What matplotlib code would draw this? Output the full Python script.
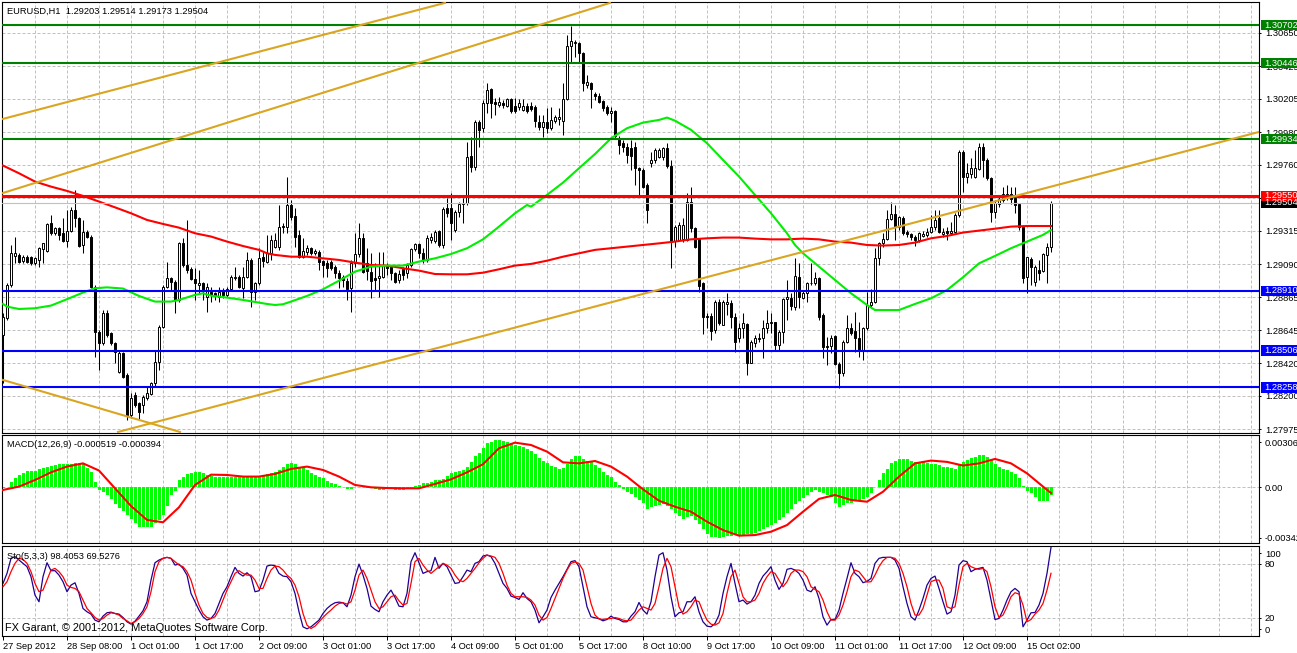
import numpy as np
import matplotlib
matplotlib.use("Agg")
import matplotlib.pyplot as plt
import matplotlib.transforms as mtransforms
from matplotlib.patches import Rectangle

plt.rcParams['font.family'] = ['Liberation Sans', 'DejaVu Sans']

# ---- EURUSD H1 candles ----
opens = [
    1.28612, 1.28724, 1.28949, 1.29145, 1.29152, 1.29113, 1.29140, 1.29136, 1.29095, 1.29118,
    1.29190, 1.29181, 1.29365, 1.29298, 1.29332, 1.29298, 1.29248, 1.29316, 1.29455, 1.29399,
    1.29219, 1.29309, 1.29276, 1.28938, 1.28634, 1.28555, 1.28758, 1.28623, 1.28555, 1.28364,
    1.28488, 1.28342, 1.28072, 1.28207, 1.28150, 1.28139, 1.28184, 1.28214, 1.28285, 1.28432,
    1.28668, 1.28938, 1.28994, 1.28972, 1.28848, 1.29235, 1.29084, 1.29055, 1.28992, 1.28947,
    1.28965, 1.28871, 1.28904, 1.28893, 1.28871, 1.28915, 1.28880, 1.28920, 1.28994, 1.29005,
    1.28927, 1.29005, 1.29118, 1.28904, 1.28960, 1.29140, 1.29107, 1.29163, 1.29208, 1.29208,
    1.29347, 1.29343, 1.29489, 1.29415, 1.29287, 1.29140, 1.29170, 1.29197, 1.29163, 1.29170,
    1.29111, 1.29100, 1.29107, 1.29073, 1.29032, 1.29005, 1.28978, 1.28927, 1.29095, 1.29158,
    1.29264, 1.29095, 1.29039, 1.28994, 1.28994, 1.29005, 1.29084, 1.29073, 1.29032, 1.28983,
    1.29055, 1.29028, 1.29084, 1.29190, 1.29224, 1.29163, 1.29118, 1.29253, 1.29248, 1.29314,
    1.29219, 1.29467, 1.29467, 1.29320, 1.29440, 1.29496, 1.29501, 1.29820, 1.29743, 1.30052,
    1.30007, 1.30176, 1.30270, 1.30182, 1.30164, 1.30180, 1.30158, 1.30203, 1.30158, 1.30149,
    1.30131, 1.30158, 1.30158, 1.30149, 1.30052, 1.30018, 1.30052, 1.30007, 1.30058, 1.30068,
    1.30058, 1.30203, 1.30562, 1.30581, 1.30581, 1.30518, 1.30299, 1.30315, 1.30238, 1.30225,
    1.30191, 1.30153, 1.30113, 1.30120, 1.29939, 1.29906, 1.29883, 1.29872, 1.29883, 1.29737,
    1.29725, 1.29624, 1.29770, 1.29793, 1.29815, 1.29815, 1.29872, 1.29752, 1.29248, 1.29253,
    1.29257, 1.29253, 1.29512, 1.29332, 1.29257, 1.28960, 1.28740, 1.28740, 1.28645, 1.28837,
    1.28679, 1.28821, 1.28830, 1.28735, 1.28589, 1.28657, 1.28686, 1.28425, 1.28555, 1.28583,
    1.28589, 1.28657, 1.28690, 1.28697, 1.28544, 1.28634, 1.28853, 1.28864, 1.28803, 1.29005,
    1.28864, 1.28893, 1.28960, 1.28960, 1.28994, 1.28747, 1.28537, 1.28537, 1.28605, 1.28416,
    1.28357, 1.28567, 1.28657, 1.28641, 1.28589, 1.28510, 1.28657, 1.28814, 1.28837, 1.29129,
    1.29230, 1.29257, 1.29393, 1.29426, 1.29343, 1.29399, 1.29309, 1.29293, 1.29271, 1.29253,
    1.29280, 1.29287, 1.29309, 1.29338, 1.29399, 1.29293, 1.29314, 1.29298, 1.29309, 1.29422,
    1.29849, 1.29681, 1.29698, 1.29681, 1.29730, 1.29883, 1.29793, 1.29670, 1.29444, 1.29496,
    1.29523, 1.29546, 1.29564, 1.29534, 1.29496, 1.29343, 1.29000, 1.29123, 1.28972, 1.29050,
    1.29046, 1.29152, 1.29203]
highs = [
    1.28758, 1.28960, 1.29219, 1.29276, 1.29163, 1.29152, 1.29152, 1.29145, 1.29140, 1.29208,
    1.29235, 1.29365, 1.29422, 1.29343, 1.29343, 1.29399, 1.29455, 1.29478, 1.29590, 1.29410,
    1.29388, 1.29320, 1.29287, 1.28949, 1.28645, 1.28780, 1.28780, 1.28634, 1.28567, 1.28510,
    1.28499, 1.28353, 1.28218, 1.28229, 1.28162, 1.28207, 1.28263, 1.28297, 1.28510, 1.28679,
    1.28949, 1.29107, 1.29005, 1.28983, 1.29242, 1.29264, 1.29388, 1.29073, 1.29062, 1.29050,
    1.28972, 1.28960, 1.28938, 1.28904, 1.28938, 1.28927, 1.28938, 1.29017, 1.29073, 1.29017,
    1.29073, 1.29170, 1.29129, 1.28972, 1.29197, 1.29170, 1.29287, 1.29287, 1.29298, 1.29489,
    1.29365, 1.29681, 1.29523, 1.29467, 1.29320, 1.29264, 1.29219, 1.29208, 1.29190, 1.29186,
    1.29118, 1.29118, 1.29118, 1.29084, 1.29050, 1.29017, 1.28994, 1.29118, 1.29298, 1.29365,
    1.29298, 1.29197, 1.29163, 1.29095, 1.29170, 1.29170, 1.29095, 1.29084, 1.29039, 1.29050,
    1.29073, 1.29095, 1.29197, 1.29235, 1.29235, 1.29197, 1.29287, 1.29298, 1.29320, 1.29320,
    1.29478, 1.29534, 1.29573, 1.29455, 1.29512, 1.29534, 1.29917, 1.29950, 1.30063, 1.30063,
    1.30198, 1.30310, 1.30277, 1.30209, 1.30220, 1.30198, 1.30214, 1.30209, 1.30209, 1.30203,
    1.30203, 1.30176, 1.30187, 1.30164, 1.30097, 1.30097, 1.30142, 1.30149, 1.30097, 1.30142,
    1.30310, 1.30637, 1.30697, 1.30603, 1.30592, 1.30524, 1.30367, 1.30322, 1.30254, 1.30243,
    1.30198, 1.30164, 1.30153, 1.30131, 1.29955, 1.29928, 1.29906, 1.29928, 1.29917, 1.29748,
    1.29737, 1.29636, 1.29849, 1.29872, 1.29872, 1.29883, 1.29906, 1.29793, 1.29354, 1.29377,
    1.29399, 1.29568, 1.29613, 1.29343, 1.29264, 1.28972, 1.28758, 1.28758, 1.28848, 1.28853,
    1.28848, 1.28893, 1.28848, 1.28758, 1.28690, 1.28758, 1.28695, 1.28578, 1.28612, 1.28623,
    1.28713, 1.28780, 1.28758, 1.28702, 1.28645, 1.28859, 1.28983, 1.28893, 1.29129, 1.29095,
    1.28915, 1.28972, 1.29095, 1.29039, 1.29005, 1.28758, 1.28600, 1.28612, 1.28612, 1.28432,
    1.28578, 1.28747, 1.28690, 1.28769, 1.28702, 1.28668, 1.28904, 1.28920, 1.29197, 1.29242,
    1.29298, 1.29455, 1.29512, 1.29489, 1.29415, 1.29415, 1.29320, 1.29302, 1.29287, 1.29309,
    1.29316, 1.29332, 1.29422, 1.29455, 1.29455, 1.29332, 1.29343, 1.29377, 1.29433, 1.29860,
    1.29860, 1.29770, 1.29804, 1.29860, 1.29906, 1.29906, 1.29804, 1.29681, 1.29523, 1.29546,
    1.29613, 1.29624, 1.29613, 1.29613, 1.29505, 1.29354, 1.29140, 1.29140, 1.29084, 1.29118,
    1.29163, 1.29230, 1.29514]
lows = [
    1.28285, 1.28713, 1.28938, 1.29095, 1.29095, 1.29100, 1.29095, 1.29084, 1.29084, 1.29073,
    1.29095, 1.29170, 1.29287, 1.29287, 1.29253, 1.29242, 1.29208, 1.29309, 1.29343, 1.29208,
    1.29163, 1.29264, 1.28927, 1.28465, 1.28375, 1.28544, 1.28600, 1.28544, 1.28420, 1.28353,
    1.28319, 1.28038, 1.28049, 1.28128, 1.28043, 1.28083, 1.28173, 1.28207, 1.28263, 1.28375,
    1.28657, 1.28927, 1.28915, 1.28758, 1.28837, 1.29073, 1.29028, 1.28983, 1.28848, 1.28893,
    1.28848, 1.28769, 1.28837, 1.28848, 1.28837, 1.28859, 1.28871, 1.28915, 1.28983, 1.28927,
    1.28859, 1.28994, 1.28803, 1.28848, 1.28949, 1.29073, 1.29095, 1.29118, 1.29197, 1.29186,
    1.29298, 1.29298, 1.29388, 1.29208, 1.29129, 1.29129, 1.29152, 1.29152, 1.29152, 1.29050,
    1.29005, 1.29005, 1.29050, 1.28994, 1.28927, 1.28938, 1.28848, 1.28769, 1.29073, 1.29140,
    1.29028, 1.28983, 1.28864, 1.28915, 1.28871, 1.28994, 1.29017, 1.28983, 1.28960, 1.28960,
    1.28983, 1.28994, 1.29073, 1.29181, 1.29129, 1.29095, 1.29107, 1.29230, 1.29230, 1.29208,
    1.29197, 1.29410, 1.29253, 1.29309, 1.29410, 1.29365, 1.29489, 1.29714, 1.29725, 1.29883,
    1.29984, 1.30108, 1.30074, 1.30097, 1.30153, 1.30142, 1.30149, 1.30113, 1.30108, 1.30131,
    1.30120, 1.30108, 1.30120, 1.30018, 1.29996, 1.29950, 1.29973, 1.29996, 1.30041, 1.30030,
    1.29962, 1.30198, 1.30457, 1.30491, 1.30457, 1.30261, 1.30277, 1.30142, 1.30198, 1.30176,
    1.30120, 1.30097, 1.30052, 1.29939, 1.29833, 1.29849, 1.29770, 1.29725, 1.29624, 1.29557,
    1.29602, 1.29365, 1.29748, 1.29770, 1.29804, 1.29793, 1.29737, 1.29062, 1.29208, 1.29253,
    1.29242, 1.29248, 1.29309, 1.29197, 1.28904, 1.28616, 1.28657, 1.28578, 1.28623, 1.28679,
    1.28679, 1.28747, 1.28657, 1.28499, 1.28567, 1.28589, 1.28342, 1.28420, 1.28533, 1.28567,
    1.28454, 1.28623, 1.28623, 1.28510, 1.28510, 1.28555, 1.28713, 1.28780, 1.28780, 1.28792,
    1.28853, 1.28837, 1.28949, 1.28949, 1.28713, 1.28454, 1.28409, 1.28488, 1.28409, 1.28252,
    1.28335, 1.28555, 1.28612, 1.28499, 1.28465, 1.28443, 1.28645, 1.28792, 1.28825, 1.29084,
    1.29208, 1.29253, 1.29388, 1.29253, 1.29320, 1.29287, 1.29276, 1.29253, 1.29212, 1.29242,
    1.29276, 1.29271, 1.29298, 1.29320, 1.29298, 1.29271, 1.29253, 1.29287, 1.29298, 1.29410,
    1.29579, 1.29636, 1.29670, 1.29670, 1.29725, 1.29681, 1.29658, 1.29377, 1.29399, 1.29478,
    1.29512, 1.29523, 1.29496, 1.29433, 1.29320, 1.28965, 1.28898, 1.28949, 1.28943, 1.28983,
    1.29039, 1.28960, 1.29173]
closes = [
    1.28735, 1.28949, 1.29163, 1.29163, 1.29107, 1.29140, 1.29107, 1.29095, 1.29129, 1.29197,
    1.29230, 1.29361, 1.29298, 1.29332, 1.29287, 1.29248, 1.29316, 1.29455, 1.29399, 1.29212,
    1.29309, 1.29276, 1.28938, 1.28634, 1.28555, 1.28758, 1.28612, 1.28555, 1.28499, 1.28488,
    1.28330, 1.28072, 1.28184, 1.28139, 1.28094, 1.28195, 1.28218, 1.28285, 1.28432, 1.28668,
    1.28938, 1.28994, 1.28972, 1.28848, 1.29235, 1.29084, 1.29050, 1.28992, 1.28960, 1.28965,
    1.28915, 1.28938, 1.28882, 1.28875, 1.28902, 1.28882, 1.28925, 1.29005, 1.29005, 1.28933,
    1.29005, 1.29118, 1.28904, 1.28960, 1.29129, 1.29113, 1.29163, 1.29253, 1.29253, 1.29343,
    1.29338, 1.29489, 1.29410, 1.29276, 1.29140, 1.29181, 1.29197, 1.29163, 1.29181, 1.29107,
    1.29084, 1.29062, 1.29062, 1.29032, 1.28994, 1.28983, 1.28920, 1.29095, 1.29158, 1.29264,
    1.29039, 1.29046, 1.28978, 1.28983, 1.29010, 1.29084, 1.29062, 1.29028, 1.28972, 1.29023,
    1.29017, 1.29084, 1.29190, 1.29224, 1.29163, 1.29118, 1.29264, 1.29276, 1.29309, 1.29219,
    1.29460, 1.29433, 1.29370, 1.29440, 1.29496, 1.29505, 1.29815, 1.29743, 1.30052, 1.29996,
    1.30176, 1.30266, 1.30180, 1.30169, 1.30187, 1.30162, 1.30207, 1.30120, 1.30124, 1.30180,
    1.30158, 1.30120, 1.30135, 1.30058, 1.30018, 1.30052, 1.30007, 1.30063, 1.30081, 1.30086,
    1.30203, 1.30562, 1.30596, 1.30592, 1.30518, 1.30310, 1.30322, 1.30270, 1.30225, 1.30187,
    1.30142, 1.30113, 1.30120, 1.29955, 1.29894, 1.29883, 1.29827, 1.29820, 1.29737, 1.29725,
    1.29613, 1.29455, 1.29793, 1.29860, 1.29860, 1.29872, 1.29752, 1.29242, 1.29343, 1.29354,
    1.29354, 1.29512, 1.29332, 1.29208, 1.28943, 1.28735, 1.28735, 1.28639, 1.28837, 1.28690,
    1.28837, 1.28837, 1.28735, 1.28567, 1.28657, 1.28690, 1.28425, 1.28567, 1.28589, 1.28594,
    1.28657, 1.28690, 1.28702, 1.28544, 1.28634, 1.28853, 1.28871, 1.28808, 1.29010, 1.28871,
    1.28898, 1.28960, 1.28965, 1.28994, 1.28735, 1.28533, 1.28533, 1.28589, 1.28416, 1.28357,
    1.28567, 1.28657, 1.28628, 1.28589, 1.28510, 1.28657, 1.28814, 1.28837, 1.29129, 1.29230,
    1.29257, 1.29393, 1.29426, 1.29343, 1.29406, 1.29298, 1.29293, 1.29276, 1.29253, 1.29298,
    1.29293, 1.29309, 1.29338, 1.29388, 1.29309, 1.29309, 1.29298, 1.29314, 1.29422, 1.29849,
    1.29681, 1.29703, 1.29737, 1.29737, 1.29883, 1.29793, 1.29670, 1.29444, 1.29501, 1.29528,
    1.29564, 1.29564, 1.29528, 1.29489, 1.29343, 1.28994, 1.29136, 1.29073, 1.29073, 1.29032,
    1.29156, 1.29203, 1.29504]

# moving averages (sampled along the drawn curves)
ma_red_idx = [0, 4, 8, 12, 16, 20, 24, 28, 32, 36, 40, 44, 48, 52, 56, 60, 64, 66, 68, 72,
              76, 80, 84, 88, 92, 96, 100, 104, 108, 112, 116, 120, 124, 128, 132, 136, 140,
              144, 148, 152, 156, 160, 164, 168, 172, 176, 180, 184, 188, 192, 196, 200, 204,
              208, 212, 216, 220, 224, 228, 232, 236, 240, 244, 248, 252, 256, 260, 262]
ma_red = [1.29755, 1.29703, 1.29647, 1.29613, 1.29584, 1.29550, 1.29512, 1.29473, 1.29433,
          1.29388, 1.29361, 1.29336, 1.29298, 1.29276, 1.29242, 1.29212, 1.29186, 1.29163,
          1.29152, 1.29140, 1.29140, 1.29129, 1.29118, 1.29100, 1.29084, 1.29080, 1.29062,
          1.29046, 1.29023, 1.29021, 1.29021, 1.29032, 1.29055, 1.29080, 1.29091, 1.29113,
          1.29140, 1.29163, 1.29186, 1.29197, 1.29208, 1.29219, 1.29230, 1.29242, 1.29257,
          1.29264, 1.29269, 1.29269, 1.29262, 1.29257, 1.29257, 1.29262, 1.29257, 1.29242,
          1.29235, 1.29219, 1.29215, 1.29219, 1.29235, 1.29264, 1.29280, 1.29303, 1.29316,
          1.29329, 1.29343, 1.29347, 1.29347, 1.29347]
ma_green_idx = [0, 1, 4, 8, 12, 16, 20, 23, 26, 30, 34, 38, 42, 44, 48, 50, 52, 56, 60, 64,
                66, 68, 70, 72, 76, 80, 84, 88, 92, 96, 100, 104, 108, 112, 116, 120, 124,
                128, 131, 132, 136, 140, 144, 148, 152, 156, 160, 164, 166, 168, 172, 176,
                180, 184, 188, 192, 196, 198, 200, 204, 208, 212, 216, 218, 224, 228, 232,
                236, 240, 244, 248, 252, 256, 260, 262]
ma_green = [1.28821, 1.28803, 1.28787, 1.28792, 1.28810, 1.28853, 1.28898, 1.28927, 1.28933,
            1.28925, 1.28875, 1.28837, 1.28837, 1.28848, 1.28882, 1.28893, 1.28877, 1.28864,
            1.28848, 1.28830, 1.28821, 1.28814, 1.28819, 1.28837, 1.28875, 1.28920, 1.28978,
            1.29039, 1.29073, 1.29080, 1.29080, 1.29107, 1.29129, 1.29158, 1.29197, 1.29257,
            1.29343, 1.29433, 1.29489, 1.29478, 1.29557, 1.29640, 1.29737, 1.29833, 1.29939,
            1.30007, 1.30045, 1.30063, 1.30079, 1.30058, 1.29996, 1.29906, 1.29793, 1.29681,
            1.29557, 1.29433, 1.29298, 1.29219, 1.29163, 1.29073, 1.28983, 1.28893, 1.28814,
            1.28780, 1.28780, 1.28821, 1.28859, 1.28915, 1.29001, 1.29095, 1.29145, 1.29197,
            1.29242, 1.29287, 1.29320]

green_levels = [1.30702, 1.30446, 1.29934]
red_level = 1.29550
blue_levels = [1.28910, 1.28506, 1.28258]
last_price = 1.29504

# trend lines: ((bar, price), (bar, price))
trend_lines = [((0, 1.30070), (110.5, 1.30853)),
               ((0, 1.29570), (151.75, 1.30853)),
               ((28.75, 1.27957), (314, 1.29982)),
               ((0, 1.28308), (44.25, 1.27957))]

# MACD(12,26,9)
macd_hist = [
    -0.00007, 0.00005, 0.00039, 0.00066, 0.00084, 0.00095, 0.00109, 0.00111, 0.00114, 0.00123,
    0.00129, 0.00136, 0.00148, 0.00154, 0.00159, 0.00159, 0.00159, 0.00157, 0.00163, 0.00168,
    0.00163, 0.00134, 0.00104, 0.00039, -0.00018, -0.00030, -0.00052, -0.00082, -0.00114, -0.00143,
    -0.00161, -0.00188, -0.00218, -0.00245, -0.00268, -0.00272, -0.00272, -0.00268, -0.00245, -0.00222,
    -0.00188, -0.00127, -0.00052, -0.00025, 0.00050, 0.00073, 0.00091, 0.00100, 0.00107, 0.00107,
    0.00095, 0.00084, 0.00079, 0.00073, 0.00070, 0.00070, 0.00068, 0.00068, 0.00068, 0.00068,
    0.00068, 0.00068, 0.00068, 0.00068, 0.00073, 0.00077, 0.00089, 0.00095, 0.00104, 0.00118,
    0.00136, 0.00157, 0.00163, 0.00157, 0.00141, 0.00129, 0.00118, 0.00100, 0.00084, 0.00073,
    0.00061, 0.00045, 0.00032, 0.00020, 0.00009, 0.00005, -0.00011, -0.00011, 0.00001, 0.00001,
    -0.00001, -0.00002, -0.00007, -0.00014, -0.00018, -0.00018, -0.00014, -0.00014, -0.00018, -0.00018,
    -0.00018, -0.00009, -0.00007, 0.00009, 0.00016, 0.00027, 0.00032, 0.00034, 0.00048, 0.00050,
    0.00054, 0.00077, 0.00095, 0.00107, 0.00114, 0.00118, 0.00141, 0.00173, 0.00213, 0.00232,
    0.00266, 0.00300, 0.00306, 0.00320, 0.00320, 0.00316, 0.00311, 0.00300, 0.00288, 0.00281,
    0.00272, 0.00259, 0.00245, 0.00225, 0.00200, 0.00182, 0.00163, 0.00148, 0.00136, 0.00127,
    0.00134, 0.00159, 0.00191, 0.00213, 0.00213, 0.00195, 0.00182, 0.00170, 0.00152, 0.00132,
    0.00107, 0.00084, 0.00068, 0.00039, 0.00016, -0.00014, -0.00030, -0.00045, -0.00064, -0.00086,
    -0.00109, -0.00145, -0.00136, -0.00127, -0.00118, -0.00114, -0.00127, -0.00150, -0.00177, -0.00195,
    -0.00213, -0.00204, -0.00195, -0.00222, -0.00252, -0.00286, -0.00318, -0.00338, -0.00338, -0.00342,
    -0.00341, -0.00331, -0.00329, -0.00325, -0.00325, -0.00325, -0.00320, -0.00318, -0.00309, -0.00297,
    -0.00286, -0.00272, -0.00257, -0.00241, -0.00222, -0.00200, -0.00173, -0.00150, -0.00114, -0.00091,
    -0.00075, -0.00052, -0.00030, -0.00018, -0.00034, -0.00041, -0.00052, -0.00068, -0.00104, -0.00132,
    -0.00120, -0.00104, -0.00104, -0.00091, -0.00089, -0.00082, -0.00066, -0.00041, 0.00005, 0.00050,
    0.00095, 0.00123, 0.00163, 0.00177, 0.00191, 0.00191, 0.00191, 0.00182, 0.00175, 0.00175,
    0.00170, 0.00166, 0.00159, 0.00157, 0.00150, 0.00141, 0.00136, 0.00129, 0.00125, 0.00157,
    0.00170, 0.00186, 0.00197, 0.00204, 0.00220, 0.00220, 0.00209, 0.00186, 0.00157, 0.00136,
    0.00123, 0.00118, 0.00104, 0.00091, 0.00061, 0.00009, -0.00025, -0.00041, -0.00064, -0.00091,
    -0.00091, -0.00091, -0.00052]
macd_signal_idx = list(range(0, 261, 4)) + [262]
macd_signal = [
    -0.00018, 0.00005, 0.00050, 0.00102, 0.00141, 0.00163, 0.00114, -0.00007, -0.00127, -0.00222,
    -0.00238, -0.00136, 0.00016, 0.00086, 0.00084, 0.00073, 0.00073, 0.00091, 0.00125, 0.00141,
    0.00118, 0.00073, 0.00016, 0.00000, -0.00005, -0.00007, -0.00007, 0.00023, 0.00054, 0.00102,
    0.00157, 0.00266, 0.00304, 0.00288, 0.00243, 0.00170, 0.00163, 0.00179, 0.00141, 0.00073,
    -0.00014, -0.00091, -0.00132, -0.00166, -0.00234, -0.00291, -0.00329, -0.00325, -0.00302, -0.00257,
    -0.00166, -0.00079, -0.00052, -0.00086, -0.00098, -0.00030, 0.00073, 0.00163, 0.00182, 0.00173,
    0.00148, 0.00163, 0.00193, 0.00163, 0.00095, 0.00005, -0.00039]

# Stochastic(5,3,3)
sto_main = [
    58.2, 69.4, 86.2, 88.1, 84.3, 80.6, 76.9, 65.7, 45.1, 37.7,
    65.7, 81.3, 72.4, 72.4, 67.5, 60.1, 48.9, 56.3, 58.9, 47.0,
    30.2, 26.5, 23.9, 17.2, 15.3, 21.6, 25.4, 26.1, 24.6, 23.9,
    20.1, 15.3, 12.7, 16.0, 21.6, 27.6, 37.7, 61.9, 81.3, 84.3,
    86.2, 87.3, 86.2, 78.7, 79.8, 75.0, 67.5, 47.0, 37.7, 28.4,
    20.9, 17.2, 19.0, 24.6, 35.8, 47.0, 54.5, 65.7, 76.1, 69.4,
    66.4, 70.1, 65.7, 48.9, 50.0, 61.9, 77.6, 78.7, 78.0, 69.4,
    66.4, 65.7, 60.1, 47.0, 26.5, 9.7, 7.5, 9.7, 13.4, 17.2,
    24.6, 30.2, 34.0, 36.6, 37.3, 36.6, 32.1, 45.1, 65.7, 79.8,
    67.5, 52.6, 32.8, 29.1, 26.5, 37.7, 45.1, 50.7, 42.5, 32.8,
    32.1, 47.0, 82.5, 92.5, 81.3, 69.4, 71.3, 72.4, 87.3, 75.0,
    80.6, 76.9, 67.5, 58.2, 59.0, 65.7, 73.1, 71.3, 80.6, 82.5,
    88.8, 89.9, 88.1, 80.6, 69.4, 58.2, 52.6, 44.0, 42.5, 40.3,
    47.8, 41.4, 37.7, 28.4, 14.2, 20.9, 28.4, 42.5, 50.7, 58.2,
    65.7, 73.9, 82.5, 83.6, 76.9, 54.5, 32.1, 20.9, 19.8, 18.7,
    16.4, 17.9, 21.6, 19.0, 17.9, 15.3, 15.3, 21.6, 26.5, 36.9,
    28.4, 23.9, 37.7, 65.7, 89.9, 92.5, 73.1, 43.3, 20.9, 25.4,
    26.5, 37.7, 37.7, 43.3, 26.5, 15.3, 10.4, 9.7, 13.4, 22.8,
    47.0, 65.7, 80.6, 58.2, 37.7, 39.6, 35.1, 37.7, 45.1, 58.2,
    66.4, 71.3, 76.9, 61.9, 51.5, 58.2, 73.9, 75.0, 73.1, 69.4,
    61.9, 50.7, 48.9, 54.5, 41.4, 20.9, 11.6, 17.9, 17.9, 28.4,
    47.0, 63.8, 81.3, 69.4, 65.7, 59.0, 60.4, 63.8, 80.6, 86.2,
    87.3, 87.3, 87.3, 84.3, 75.0, 54.5, 35.8, 20.9, 17.2, 28.4,
    41.4, 56.3, 63.8, 66.4, 52.6, 37.7, 23.9, 26.5, 45.1, 78.7,
    83.6, 82.5, 71.3, 73.9, 75.0, 76.1, 61.9, 39.6, 17.9, 19.0,
    28.4, 39.6, 48.9, 52.6, 48.9, 9.7, 17.2, 25.4, 25.7, 34.0,
    47.0, 69.4, 98.4]
sto_signal = [
    54.5, 60.1, 71.3, 80.6, 86.2, 85.1, 80.6, 71.3, 58.2, 48.9,
    50.7, 61.9, 73.1, 75.0, 71.3, 65.7, 56.3, 53.7, 52.6, 48.9,
    39.6, 30.2, 25.4, 20.1, 17.2, 19.0, 22.8, 25.4, 24.6, 22.8,
    19.0, 16.4, 13.4, 15.3, 19.0, 24.6, 32.1, 48.9, 71.3, 82.5,
    86.2, 87.3, 86.2, 82.5, 78.7, 76.9, 71.3, 61.9, 47.0, 34.0,
    24.6, 20.1, 19.0, 20.9, 28.4, 39.6, 50.7, 60.1, 69.4, 72.4,
    69.4, 67.5, 67.5, 61.9, 52.6, 52.6, 63.8, 73.1, 77.6, 76.9,
    73.1, 67.5, 63.8, 56.3, 43.3, 24.6, 11.6, 7.8, 10.4, 15.3,
    20.1, 24.6, 28.4, 32.8, 35.8, 36.6, 35.1, 37.7, 50.7, 67.5,
    73.1, 63.8, 50.7, 37.7, 30.2, 32.1, 37.7, 43.3, 45.1, 38.8,
    34.0, 35.8, 58.2, 82.5, 86.2, 78.7, 73.1, 69.4, 73.1, 76.9,
    80.6, 78.7, 75.0, 67.5, 61.9, 60.1, 63.8, 69.4, 75.0, 81.3,
    86.2, 89.9, 88.8, 87.3, 80.6, 69.4, 56.3, 47.0, 43.3, 43.3,
    43.3, 42.5, 39.6, 34.0, 22.8, 17.2, 20.1, 30.2, 41.4, 52.6,
    63.8, 73.1, 80.6, 82.1, 80.6, 73.1, 54.5, 35.8, 22.8, 18.7,
    17.9, 18.7, 19.0, 20.1, 19.0, 17.2, 16.4, 17.2, 22.8, 28.4,
    32.1, 30.2, 28.4, 35.8, 54.5, 75.0, 86.2, 76.9, 54.5, 32.1,
    23.9, 26.5, 32.1, 39.6, 37.7, 26.5, 17.2, 12.7, 11.6, 14.2,
    24.6, 47.0, 65.7, 73.1, 58.2, 43.3, 37.7, 37.7, 39.6, 47.0,
    58.2, 65.7, 71.3, 69.4, 61.9, 54.5, 60.1, 69.4, 73.1, 73.1,
    71.3, 65.7, 54.5, 51.5, 48.9, 39.6, 26.5, 17.2, 17.2, 22.8,
    34.0, 48.9, 65.7, 73.1, 71.3, 65.7, 59.7, 60.1, 67.5, 76.9,
    83.6, 87.3, 87.3, 86.2, 80.6, 69.4, 54.5, 35.8, 22.8, 22.8,
    30.2, 45.1, 60.1, 61.9, 61.9, 52.6, 32.1, 30.2, 32.1, 56.3,
    76.9, 80.6, 76.9, 75.0, 73.9, 75.0, 71.3, 54.5, 32.1, 20.1,
    22.8, 32.1, 43.3, 47.8, 46.3, 34.0, 15.3, 17.9, 23.9, 28.4,
    35.8, 50.7, 69.5]

price_ticks = ["1.30650", "1.30425", "1.30205", "1.29980", "1.29760", "1.29535", "1.29315",
               "1.29090", "1.28865", "1.28645", "1.28420", "1.28200", "1.27975"]
time_idx = list(range(0, 257, 16))
time_labels = ["27 Sep 2012", "28 Sep 08:00", "1 Oct 01:00", "1 Oct 17:00", "2 Oct 09:00",
               "3 Oct 01:00", "3 Oct 17:00", "4 Oct 09:00", "5 Oct 01:00", "5 Oct 17:00",
               "8 Oct 10:00", "9 Oct 17:00", "10 Oct 09:00", "11 Oct 01:00", "11 Oct 17:00",
               "12 Oct 09:00", "15 Oct 02:00"]

# ---- figure ----
W, H = 1297, 653
fig = plt.figure(figsize=(W / 100, H / 100), dpi=100)
GRID = dict(color='#c0c0c0', lw=0.72, dashes=(3, 2), zorder=0)
FS = 6.7


def add_panel(top, bottom):
    a = fig.add_axes([2 / W, 1 - bottom / H, 1257 / W, (bottom - top) / H])
    a.set_xlim(-0.25, 314)
    for s in a.spines.values():
        s.set_linewidth(0.8)
    for k in range(8, 314, 8):
        a.axvline(k, **GRID)
    a.yaxis.tick_right()
    a.tick_params(axis='y', length=1.6, width=0.7, pad=2.6, labelsize=FS)
    a.tick_params(axis='x', length=0, labelbottom=False)
    return a


ax = add_panel(2, 433)
ax_macd = add_panel(435, 543)
ax_sto = add_panel(546, 635.5)

# main price window
ax.set_ylim(1.27950, 1.30859)
tick_vals = [float(t) for t in price_ticks]
ax.set_yticks(tick_vals)
ax.set_yticklabels(price_ticks)
for v in tick_vals:
    ax.axhline(v, **GRID)

o = np.array(opens)
hi = np.array(highs)
lo = np.array(lows)
c = np.array(closes)
x = np.arange(len(c))
up = c >= o
ax.vlines(x, lo, hi, color='black', lw=0.75, zorder=2)
ax.bar(x, np.maximum(np.abs(c - o), 0.00003), bottom=np.minimum(o, c), width=0.55,
       color=np.where(up, 'white', 'black'), edgecolor='black', linewidth=0.7, zorder=3)

ax.plot(ma_red_idx, ma_red, color='#ff0000', lw=1.5, zorder=4)
ax.plot(ma_green_idx, ma_green, color='#00ee00', lw=1.5, zorder=4)

ax.axhline(last_price, color='#c0c0c0', lw=0.8, zorder=4)
for p in green_levels:
    ax.axhline(p, color='#008000', lw=1.5, zorder=5)
for p in blue_levels:
    ax.axhline(p, color='#0000ff', lw=1.5, zorder=5)
ax.axhline(red_level, color='#ff0000', lw=2.2, zorder=5)
for (k1, p1), (k2, p2) in trend_lines:
    ax.plot([k1, k2], [p1, p2], color='#daa520', lw=1.5, zorder=5)

# price boxes on the right scale
box_tr = mtransforms.blended_transform_factory(fig.transFigure, ax.transData)
boxes = [(p, '#008000') for p in green_levels] + [(last_price, '#000000'), (red_level, '#ff0000')] \
    + [(p, '#0000ff') for p in blue_levels]
for p, col in boxes:
    ax.add_patch(Rectangle((1261 / W, p - 0.00035), 40 / W, 0.0007, transform=box_tr,
                           facecolor=col, edgecolor='none', clip_on=False, zorder=6))
    ax.text(1264 / W, p, '%.5f' % p, transform=box_tr, color='white', fontsize=FS,
            va='center', ha='left', clip_on=False, zorder=7)

# MACD window
ax_macd.set_ylim(-0.00379, 0.00356)
ax_macd.axhline(0, **GRID)
ax_macd.bar(x, macd_hist, width=0.75, color='#00ff00', linewidth=0, zorder=2)
ax_macd.plot(macd_signal_idx, macd_signal, color='#ff0000', lw=1.5, zorder=3)
ax_macd.set_yticks([0.003065, 0.0, -0.00342])
ax_macd.set_yticklabels(['0.003065', '0.00', '-0.00342'])

# Stochastic window
ax_sto.set_ylim(0, 100)
ax_sto.axhline(80, **GRID)
ax_sto.axhline(20, **GRID)
ax_sto.plot(x, sto_main, color='#200090', lw=0.9, zorder=2)
ax_sto.plot(x, sto_signal, color='#ff0000', lw=0.9, zorder=3)
ax_sto.set_yticks([91.8, 80, 20, 6.9])
ax_sto.set_yticklabels(['100', '80', '20', '0'])
ax_sto.set_xticks(time_idx)
ax_sto.set_xticklabels(time_labels, ha='left')
ax_sto.tick_params(axis='x', length=3.2, width=0.7, pad=1.5, labelsize=FS, labelbottom=True)

# captions
fig.text(7 / W, 1 - 11 / H, "EURUSD,H1  1.29203 1.29514 1.29173 1.29504", fontsize=FS, va='center')
fig.text(7 / W, 1 - 444.7 / H, "MACD(12,26,9) -0.000519 -0.000394", fontsize=FS, va='center')
fig.text(7 / W, 1 - 556.7 / H, "Sto(5,3,3) 98.4053 69.5276", fontsize=FS, va='center')
fig.text(5 / W, 1 - 628 / H, "FX Garant, \u00a9 2001-2012, MetaQuotes Software Corp.", fontsize=7.9,
         va='center')

fig.savefig("out.png", dpi=100)
